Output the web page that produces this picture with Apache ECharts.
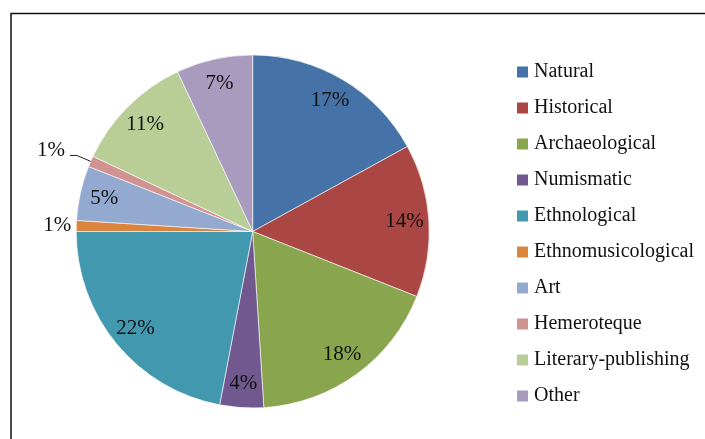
<!DOCTYPE html>
<html>
<head>
<meta charset="utf-8">
<title>Museum collections by type</title>
<script src="https://cdn.jsdelivr.net/npm/echarts@6/dist/echarts.min.js"></script>
<style>
    html, body { margin: 0; padding: 0; background: #fff; }
    #chart { width: 705px; height: 439px; }
</style>
</head>
<body>
<div id="chart"></div>
<script>
// collection types, clockwise from 12 o'clock
const categories = ['Natural', 'Historical', 'Archaeological', 'Numismatic', 'Ethnological',
    'Ethnomusicological', 'Art', 'Hemeroteque', 'Literary-publishing', 'Other'];
const shares = [17, 14, 18, 4, 22, 1, 5, 1, 11, 7];

const palette = ['#4572A7', '#AA4643', '#89A54E', '#71588F', '#4198AF',
    '#DB843D', '#93A9CF', '#D19392', '#B9CD96', '#A99BBD'];

const FONT = '"Liberation Serif", "Times New Roman", serif';
const CENTER = [252.7, 231.5];
const R = 176.5;

// small slices get their label outside, the rest sit inside the slice
const labelFor = (share, i) => {
    if (share > 1) return { position: 'inside' };
    const withLine = categories[i] === 'Hemeroteque';
    return {
        position: 'outside',
        distanceToLabelLine: 5,
        // the leader line ends under the text, so lift it a bit
        formatter: withLine ? p => `{v|${p.value}%}\n{s| }` : p => `${p.value}%`,
        rich: { v: { fontFamily: FONT, fontSize: 21, color: '#111' }, s: { fontSize: 1, height: 9 } }
    };
};

const lineFor = (share, i) => {
    if (share > 1) return { show: false };
    const withLine = categories[i] === 'Hemeroteque';
    return withLine
        ? { show: true, length: 15, length2: 7, lineStyle: { color: '#222', width: 1 } }
        : { show: false, length: 0, length2: 0 };
};

const chart = echarts.init(document.getElementById('chart'), null, { renderer: 'canvas' });

chart.setOption({
    animation: false,
    color: palette,
    graphic: [{
        type: 'polyline',
        shape: { points: [[11, 439], [11, 13.5], [705, 13.5]] },
        style: { stroke: '#111', lineWidth: 1.5, fill: null },
        silent: true
    }],
    legend: {
        data: categories,
        orient: 'vertical',
        left: 510,
        top: 57,
        icon: 'rect',
        itemWidth: 13,
        itemHeight: 13,
        itemGap: 16,
        selectedMode: false,
        textStyle: { fontFamily: FONT, fontSize: 20, color: '#111', lineHeight: 20 }
    },
    series: [
        {
            name: 'slices',
            type: 'pie',
            center: CENTER,
            radius: [0, R],
            startAngle: 90,
            clockwise: true,
            silent: true,
            label: { show: false },
            labelLine: { show: false },
            itemStyle: { borderColor: '#fff', borderWidth: 0.6 },
            emphasis: { disabled: true },
            data: categories.map((name, i) => ({ name, value: shares[i] }))
        },
        {
            // transparent ring that only carries the percentage labels
            name: 'labels',
            type: 'pie',
            center: CENTER,
            radius: [121.5, R],
            startAngle: 90,
            clockwise: true,
            silent: true,
            z: 3,
            itemStyle: { color: 'rgba(0,0,0,0)', borderWidth: 0 },
            emphasis: { disabled: true },
            label: {
                show: true,
                formatter: p => `${p.value}%`,
                fontFamily: FONT,
                fontSize: 21,
                color: '#111'
            },
            data: categories.map((name, i) => ({
                name,
                value: shares[i],
                label: labelFor(shares[i], i),
                labelLine: lineFor(shares[i], i)
            }))
        }
    ]
});
</script>
</body>
</html>
